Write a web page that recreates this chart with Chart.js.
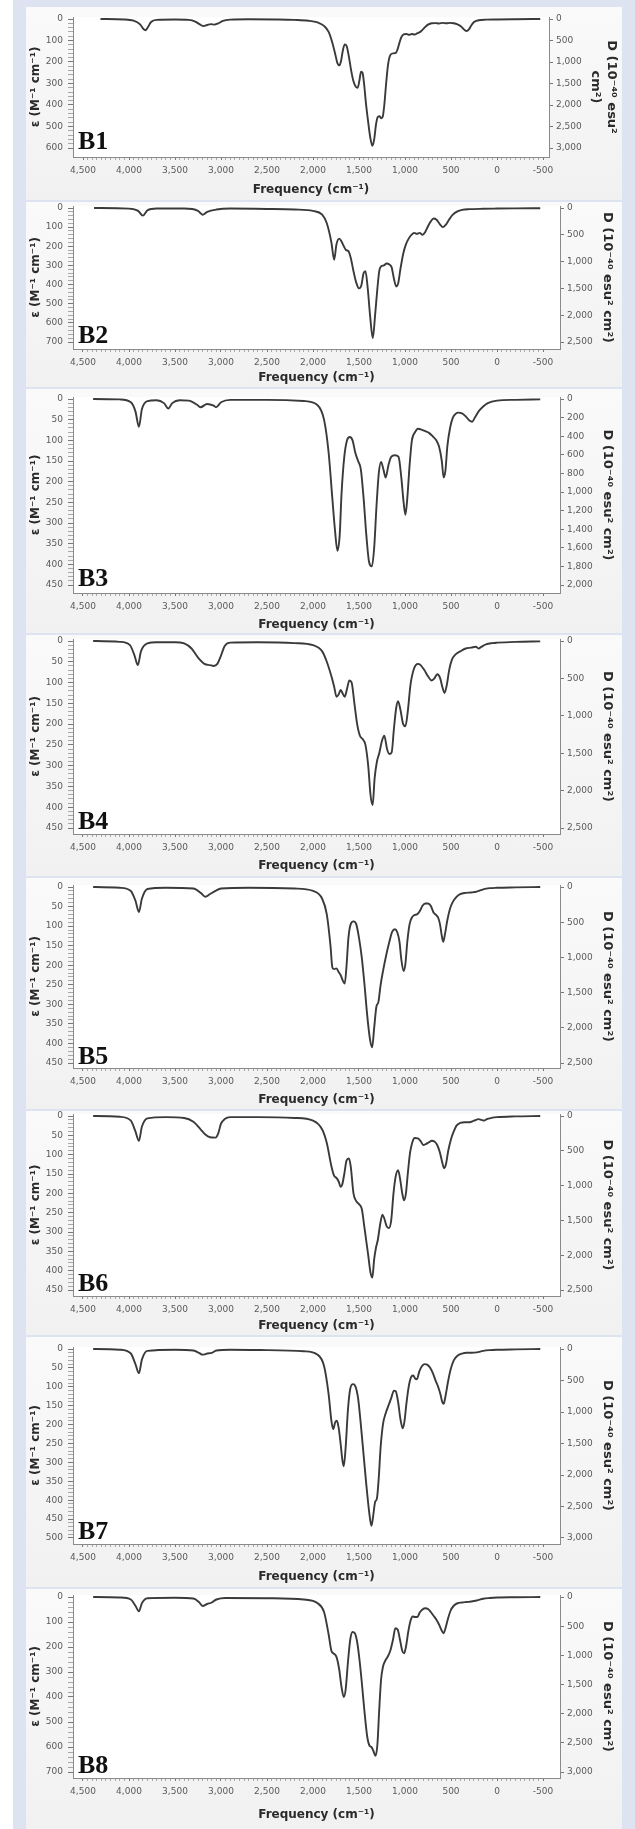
<!DOCTYPE html>
<html><head><meta charset="utf-8">
<script src="https://cdn.jsdelivr.net/npm/chart.js@4.4.1/dist/chart.umd.min.js"></script>
<style>
html,body{margin:0;padding:0;background:#fff;}
body{width:635px;height:1829px;position:relative;overflow:hidden;}
#bg{position:absolute;left:13px;top:0;width:622px;height:1829px;background:#dde3f1;}
.panel{position:absolute;left:26px;width:596px;background:linear-gradient(#fafafa,#f1f1f2);}
canvas{position:absolute;left:26px;}
</style></head><body>
<div id="bg"></div>
<script>
// ---------------- data ----------------
const panelLabels = ['B1','B2','B3','B4','B5','B6','B7','B8'];
const freqTicks = [4500,4000,3500,3000,2500,2000,1500,1000,500,0,-500];
const epsTickMax = [600,700,450,450,450,450,500,700];
const epsTickStep = [100,100,50,50,50,50,50,100];
const dTickMax = [3000,2500,2000,2500,2500,2500,3000,3000];
const dTickStep = [500,500,200,500,500,500,500,500];

const b1Freq = [4310,4050,3950,3880,3840,3820,3800,3760,3700,3500,3350,3280,3230,3190,3150,3110,3070,3030,2980,2900,2700,2400,2200,2050,1950,1880,1830,1790,1760,1735,1712,1695,1675,1655,1635,1610,1585,1560,1535,1515,1495,1478,1462,1445,1425,1400,1378,1355,1335,1315,1295,1275,1258,1242,1225,1205,1185,1160,1130,1100,1080,1060,1040,1015,985,955,925,895,865,835,805,775,745,710,670,630,590,550,510,470,430,390,355,330,305,280,250,200,120,0,-200,-470];
const b1Eps  = [0,2,8,25,48,52,42,14,4,2,4,12,25,33,28,24,26,20,9,3,1,2,4,8,16,32,60,110,160,205,215,195,145,118,125,175,240,290,315,320,285,245,250,300,390,480,550,590,560,490,455,452,462,455,400,300,215,168,160,158,140,110,85,72,70,74,70,72,66,60,48,35,25,20,19,21,18,20,18,20,25,35,50,56,48,30,14,6,3,2,1,0];

const b2Freq = [4380,4000,3900,3850,3800,3700,3400,3250,3200,3150,3050,2900,2500,2200,2000,1900,1850,1800,1770,1745,1715,1690,1665,1640,1615,1590,1560,1530,1500,1475,1450,1430,1405,1380,1350,1325,1300,1280,1260,1230,1200,1170,1145,1120,1095,1075,1050,1020,990,960,930,900,870,840,810,780,750,720,690,660,620,590,560,520,480,430,380,300,150,0,-200,-470];
const b2Eps  = [0,3,15,40,12,3,3,15,35,20,8,3,5,8,15,35,80,180,270,190,160,175,200,220,225,260,330,390,420,405,340,330,420,560,680,560,420,330,305,300,290,295,310,370,410,395,320,240,190,160,140,130,135,130,140,125,95,70,55,60,85,100,90,60,35,18,10,6,4,3,2,1];

const b3Freq = [4390,4100,3980,3930,3892,3860,3800,3700,3620,3572,3530,3450,3350,3260,3224,3150,3080,3054,3000,2900,2500,2100,1950,1880,1830,1790,1760,1735,1710,1690,1660,1630,1600,1570,1540,1510,1480,1450,1420,1390,1360,1335,1310,1285,1260,1235,1210,1180,1150,1110,1070,1040,1015,995,975,950,925,890,860,820,780,740,700,660,630,600,580,560,540,510,480,450,420,380,340,300,270,240,200,150,100,0,-200,-470];
const b3Eps  = [0,1,8,30,67,25,5,3,10,23,10,3,4,14,20,12,16,20,8,2,2,5,15,50,130,240,320,367,330,230,140,100,92,100,130,150,170,240,330,395,405,360,260,180,152,170,190,160,140,136,140,190,250,280,240,160,100,80,72,74,78,82,90,100,115,150,190,172,115,70,45,36,33,35,42,52,55,45,30,18,10,4,2,1];

const b4Freq = [4390,4100,3990,3940,3904,3870,3800,3700,3500,3400,3320,3250,3180,3120,3080,3040,3000,2960,2900,2600,2200,2000,1900,1850,1800,1770,1745,1720,1700,1680,1655,1630,1605,1580,1550,1520,1490,1460,1430,1400,1375,1352,1330,1305,1280,1250,1225,1195,1170,1145,1120,1095,1075,1050,1020,995,970,940,900,860,830,790,750,710,680,650,620,595,570,545,520,490,450,400,340,280,230,200,170,120,50,0,-200,-470];
const b4Eps  = [0,2,10,35,58,25,6,3,3,6,18,40,55,58,60,55,35,12,4,3,5,10,25,50,85,110,134,128,118,125,134,115,95,100,150,200,228,236,250,300,370,395,330,290,270,240,228,260,272,268,210,160,145,165,200,205,170,105,65,55,58,70,85,95,90,80,88,110,125,105,70,45,32,25,18,16,14,18,14,8,5,4,2,1];

const b5Freq = [4390,4100,3980,3930,3892,3860,3800,3600,3300,3220,3170,3120,3060,3000,2700,2200,2000,1900,1850,1810,1790,1770,1745,1720,1700,1675,1655,1635,1615,1590,1560,1530,1500,1470,1440,1410,1380,1357,1335,1310,1290,1265,1235,1205,1170,1140,1110,1085,1060,1040,1015,995,975,950,925,900,870,840,810,780,750,720,690,660,640,620,600,585,565,540,510,480,440,400,340,280,220,150,80,0,-200,-470];
const b5Eps  = [0,2,10,35,64,30,5,2,4,15,25,18,10,4,2,4,10,30,70,150,205,210,208,218,225,240,247,200,130,95,88,95,130,180,250,330,390,410,360,305,295,250,210,175,140,115,108,115,140,185,215,195,140,95,78,72,70,62,48,42,42,48,65,72,78,95,125,140,120,85,55,38,25,18,15,14,12,6,3,2,1,0];

const b6Freq = [4390,4100,3980,3930,3892,3860,3800,3600,3400,3300,3220,3170,3120,3060,3030,3000,2960,2900,2600,2200,2000,1900,1850,1800,1770,1745,1720,1700,1680,1660,1635,1610,1590,1560,1530,1500,1470,1440,1400,1375,1355,1335,1315,1295,1270,1245,1225,1200,1175,1150,1125,1100,1075,1055,1030,1010,990,970,945,920,895,860,830,800,770,740,710,680,650,620,595,575,555,530,500,470,440,400,350,300,250,200,170,140,110,60,0,-200,-470];
const b6Eps  = [0,2,12,40,64,28,6,3,5,15,35,48,55,56,45,20,8,3,3,5,12,35,70,130,155,160,170,183,175,150,115,110,130,200,220,228,240,290,360,405,418,370,340,320,280,255,265,285,290,270,200,155,140,160,200,218,200,150,95,68,57,58,65,75,72,68,64,66,75,95,120,135,125,90,60,40,25,18,16,16,12,8,10,12,8,5,3,1,0];

const b7Freq = [4390,4100,3980,3930,3892,3860,3800,3500,3300,3240,3200,3150,3100,3050,2900,2500,2100,1950,1880,1830,1800,1780,1760,1740,1720,1700,1680,1665,1645,1620,1595,1565,1540,1510,1480,1450,1420,1390,1365,1345,1325,1305,1285,1265,1240,1210,1180,1150,1120,1100,1075,1050,1025,1005,985,960,935,910,890,870,845,815,785,755,725,695,665,640,615,595,580,560,535,505,470,430,380,330,280,220,150,80,0,-200,-470];
const b7Eps  = [0,2,12,40,64,28,5,2,4,10,15,12,10,4,2,3,6,15,45,120,190,212,195,190,210,250,295,310,260,160,105,93,98,130,200,280,360,430,468,440,405,395,340,260,200,170,150,130,110,112,140,185,210,190,145,100,75,70,78,80,60,45,40,42,50,65,85,100,120,140,145,125,90,55,30,18,12,10,10,9,5,3,2,1,0];

const b8Freq = [4390,4100,3980,3930,3892,3860,3800,3500,3300,3240,3200,3150,3100,3050,2950,2500,2100,1950,1880,1830,1800,1780,1760,1740,1715,1690,1665,1645,1620,1595,1570,1545,1520,1495,1470,1440,1410,1385,1365,1345,1320,1300,1280,1260,1240,1215,1190,1160,1130,1105,1080,1055,1030,1010,990,965,940,915,890,865,840,810,780,750,720,690,660,630,600,580,560,535,505,470,430,380,330,280,220,150,80,0,-200,-470];
const b8Eps  = [0,2,10,35,57,25,5,3,6,20,36,28,22,10,4,5,10,25,60,150,215,225,230,245,290,360,400,370,260,170,140,145,180,250,340,460,560,595,600,615,635,590,450,330,280,255,240,215,170,125,130,170,215,225,200,140,95,78,80,80,62,50,45,48,60,75,90,110,135,145,125,90,55,35,25,22,20,18,14,7,4,2,1,0];

const freqSeries = [b1Freq,b2Freq,b3Freq,b4Freq,b5Freq,b6Freq,b7Freq,b8Freq];
const epsSeries  = [b1Eps,b2Eps,b3Eps,b4Eps,b5Eps,b6Eps,b7Eps,b8Eps];

// ---------------- layout (page pixels) ----------------
const layout = [
  {top:7,    bot:200,  y0:19,   yM:148,  axis:157,  title:190,  right:549, twoLine:true},
  {top:202,  bot:387,  y0:208,  yM:342,  axis:349,  title:378,  right:560, twoLine:false},
  {top:389,  bot:633,  y0:399,  yM:585,  axis:593,  title:625,  right:560, twoLine:false},
  {top:635,  bot:876,  y0:641,  yM:828,  axis:834,  title:866,  right:560, twoLine:false},
  {top:878,  bot:1109, y0:887,  yM:1063, axis:1068, title:1100, right:560, twoLine:false},
  {top:1111, bot:1335, y0:1116, yM:1290, axis:1296, title:1326, right:560, twoLine:false},
  {top:1337, bot:1587, y0:1349, yM:1538, axis:1544, title:1577, right:560, twoLine:false},
  {top:1589, bot:1829, y0:1597, yM:1772, axis:1778, title:1815, right:560, twoLine:false}
];
const PANEL_LEFT = 26, PANEL_RIGHT = 622, AXIS_LEFT = 73, X4500 = 83, XM500 = 543;
const FAM = "'DejaVu Sans', 'Liberation Sans', sans-serif";

const bgPlugin = {
  id:'plotBg',
  beforeDraw(chart){
    const {ctx, chartArea:a} = chart;
    ctx.save(); ctx.fillStyle = '#ffffff';
    ctx.fillRect(a.left, a.top, a.right - a.left, a.bottom - a.top);
    ctx.restore();
  }
};
const labelPlugin = {
  id:'panelLabel',
  afterDatasetsDraw(chart, args, opts){
    const ctx = chart.ctx;
    ctx.save();
    ctx.font = "bold 26px 'Liberation Serif', 'DejaVu Serif', serif";
    ctx.fillStyle = '#111';
    ctx.textBaseline = 'alphabetic';
    ctx.textAlign = 'left';
    ctx.fillText(opts.text, chart.chartArea.left + 5, chart.scales.y.getPixelForValue(opts.at) + 1);
    ctx.restore();
  }
};

layout.forEach(L => {
  const d = document.createElement('div');
  d.className = 'panel';
  d.style.top = L.top + 'px';
  d.style.height = (L.bot - L.top) + 'px';
  document.body.appendChild(d);
});

const xMinor = [];
for (let v = -500; v <= 4500; v += 50) xMinor.push(v);

layout.forEach((L, i) => {
  const cv = document.createElement('canvas');
  const cTop = L.y0 - 20;
  const W = PANEL_RIGHT - PANEL_LEFT, H = L.bot - cTop;
  cv.width = W; cv.height = H;
  cv.style.top = cTop + 'px';
  cv.style.width = W + 'px'; cv.style.height = H + 'px';
  document.body.appendChild(cv);

  const ppx = (XM500 - X4500) / 5000;
  const xMax = 4500 + (X4500 - AXIS_LEFT) / ppx;
  const xMin = -500 - (L.right - XM500) / ppx;

  const ppu = (L.yM - L.y0) / epsTickMax[i];
  const yMin = -2 / ppu;
  const yMax = epsTickMax[i] + (L.axis - L.yM) / ppu;
  const ratio = dTickMax[i] / epsTickMax[i];

  const epsMinor = [];
  const mStep = epsTickStep[i] / 5;
  for (let v = 0; v <= epsTickMax[i] + 1e-9; v += mStep) epsMinor.push(Math.round(v));
  const dTicks = [];
  for (let v = 0; v <= dTickMax[i] + 1e-9; v += dTickStep[i]) dTicks.push(v);

  const isMajorEps = v => Math.abs(v % epsTickStep[i]) < 1e-6;

  new Chart(cv, {
    type:'line',
    data:{datasets:[{
      data: freqSeries[i].map((f, k) => ({x:f, y:epsSeries[i][k]})),
      borderColor:'#3a3a3a', borderWidth:1.9, pointRadius:0,
      cubicInterpolationMode:'monotone', fill:false, yAxisID:'y', xAxisID:'x'
    }]},
    options:{
      responsive:false, animation:false, devicePixelRatio:1,
      events:[],
      layout:{padding:{top:18, left:0, right:0, bottom:0}},
      plugins:{legend:{display:false}, tooltip:{enabled:false},
        panelLabel:{text:panelLabels[i], at:epsTickMax[i]}},
      scales:{
        x:{
          type:'linear', position:'bottom', reverse:true, min:xMin, max:xMax,
          afterBuildTicks: s => { s.ticks = xMinor.map(v => ({value:v})); },
          afterFit: s => { s.height = L.bot - L.axis; },
          ticks:{autoSkip:false, maxRotation:0, minRotation:0, padding:5, color:'#5a5a5a',
            font:{family:FAM, size:9},
            callback: v => freqTicks.includes(v) ? v.toLocaleString('en-US') : ''},
          grid:{drawOnChartArea:false, drawTicks:true, tickLength:3,
            tickColor: c => (c.tick && freqTicks.includes(c.tick.value)) ? '#777' : '#a8a8a8'},
          border:{display:true, color:'#8a8a8a', width:1},
          title:{display:true, text:'Frequency (cm⁻¹)', color:'#2a2a2a',
            font:{family:FAM, size:12, weight:'bold'},
            padding:{top:0, bottom: L.bot - L.title - 7.2}}
        },
        y:{
          type:'linear', position:'left', reverse:true, min:yMin, max:yMax,
          afterBuildTicks: s => { s.ticks = epsMinor.map(v => ({value:v})); },
          afterFit: s => { s.width = AXIS_LEFT - PANEL_LEFT; },
          ticks:{autoSkip:false, padding:5, color:'#5a5a5a', font:{family:FAM, size:9},
            callback: v => isMajorEps(v) ? v.toLocaleString('en-US') : ''},
          grid:{drawOnChartArea:false, drawTicks:true, tickLength:5,
            tickColor: c => (c.tick && isMajorEps(c.tick.value)) ? '#777' : '#a8a8a8'},
          border:{display:true, color:'#8a8a8a', width:1},
          title:{display:true, text:'ε (M⁻¹ cm⁻¹)', color:'#2a2a2a',
            font:{family:FAM, size:12, weight:'bold'}, padding:{top:2.8, bottom:0}}
        },
        y2:{
          type:'linear', position:'right', reverse:true, min:yMin*ratio, max:yMax*ratio,
          afterBuildTicks: s => { s.ticks = dTicks.map(v => ({value:v})); },
          afterFit: s => { s.width = PANEL_RIGHT - L.right; },
          ticks:{autoSkip:false, padding:3, color:'#5a5a5a', font:{family:FAM, size:9},
            callback: v => v.toLocaleString('en-US')},
          grid:{drawOnChartArea:false, drawTicks:true, tickLength:4, tickColor:'#777'},
          border:{display:true, color:'#8a8a8a', width:1},
          title:{display:true,
            text: L.twoLine ? ['D (10⁻⁴⁰ esu²', 'cm²)'] : 'D (10⁻⁴⁰ esu² cm²)',
            color:'#2a2a2a', font:{family:FAM, size:13, weight:'bold'},
            padding:{top: L.twoLine ? 3.2 : 7.2, bottom:0}}
        }
      }
    },
    plugins:[bgPlugin, labelPlugin]
  });
});
</script>
</body></html>
